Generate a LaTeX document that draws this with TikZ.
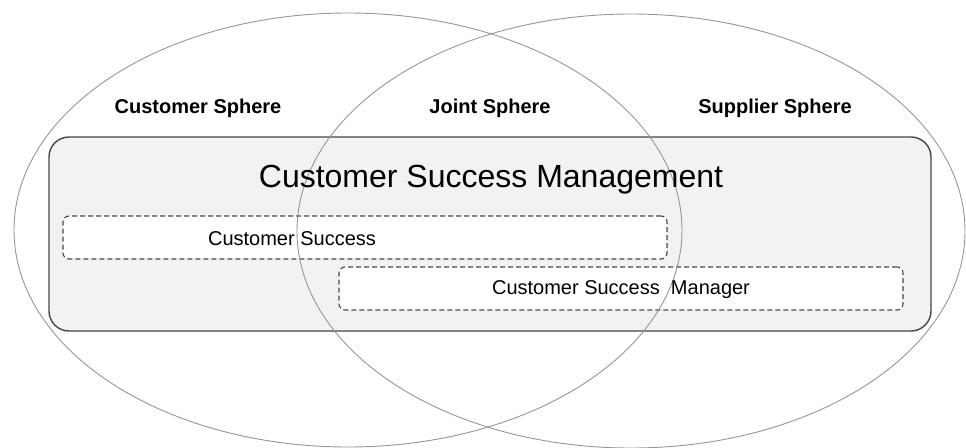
\documentclass[tikz,border=0pt]{standalone}
\usepackage{fontspec}
\setmainfont{Liberation Sans}
\usepackage{tikz}
\usepackage{xcolor}
\usetikzlibrary{positioning}
\definecolor{spheregray}{RGB}{150,150,150}
\definecolor{panelgray}{RGB}{242,242,242}
\definecolor{edgegray}{RGB}{70,70,70}

\begin{document}
\begin{tikzpicture}[
  x=1pt, y=-1pt,
  sphere/.style={draw=spheregray, line width=0.9pt},
  panel/.style={draw=edgegray, line width=1.4pt, fill=panelgray, rounded corners=20pt},
  dashbox/.style={draw=edgegray, line width=1.1pt, dash pattern=on 5pt off 3pt, fill=white, rounded corners=6pt},
  head/.style={font=\fontsize{20}{24}\selectfont\bfseries, inner sep=0pt},
  big/.style={font=\fontsize{32}{38}\selectfont, inner sep=0pt},
  txt/.style={font=\fontsize{20}{24}\selectfont, inner sep=0pt}
]
\useasboundingbox (0,0) rectangle (966,447);
% management panel with its two parts
\node[panel, minimum width=882pt, minimum height=194pt] (csm) at (490,234) {};
\node[dashbox, minimum width=604pt, minimum height=43pt] (cs) at (365,237.5) {};
\node[dashbox, minimum width=564pt, minimum height=43pt] (mgr) at (621,288.5) {};
% the three spheres
\draw[sphere] (348,230) ellipse [x radius=334, y radius=217];
\draw[sphere] (631,231) ellipse [x radius=334, y radius=217];
% labels
\node[head] (custsph) at (198,108) {Customer Sphere};
\node[head] (jointsph) at (490,108) {Joint Sphere};
\node[head] (suppsph) at (775,108) {Supplier Sphere};
\node[big] (csmlabel) at (491,180) {Customer Success Management};
\node[txt] (cslabel) at (292,239) {Customer Success};
\node[txt] (mgrlabel) at (621,290) {Customer Success\ \ Manager};
\end{tikzpicture}
\end{document}
